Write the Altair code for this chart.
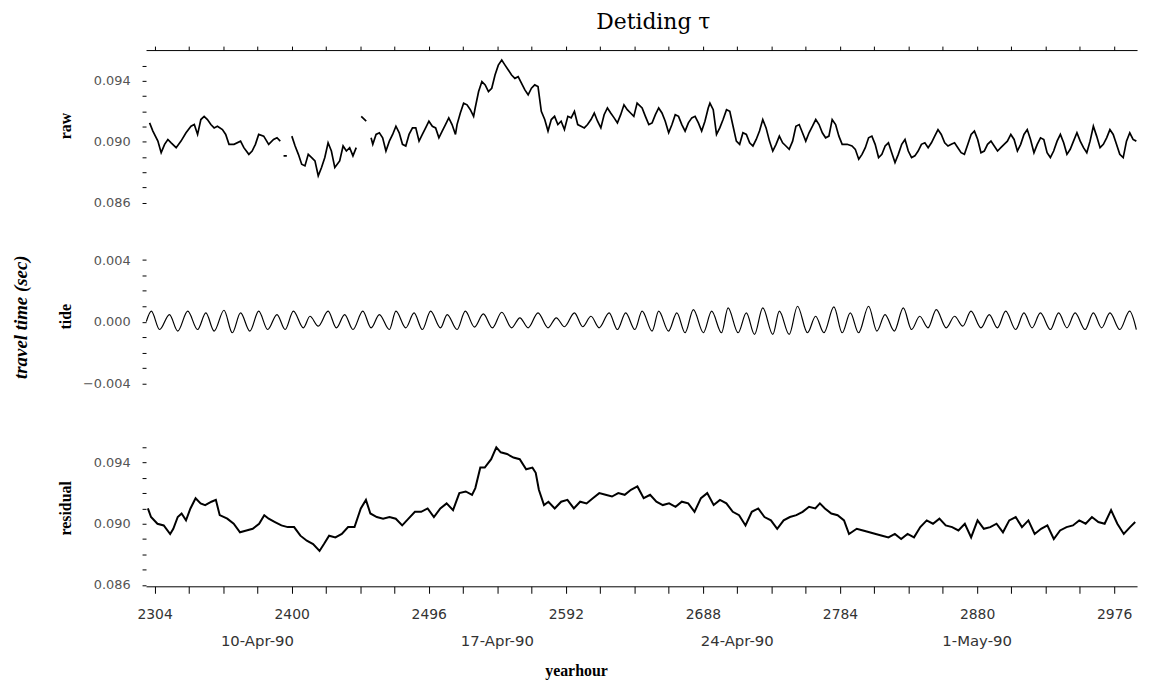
import altair as alt
import pandas as pd

# ---------------- data ----------------
raw_hours = [
    2300.5, 2302.8, 2306.3, 2308.6, 2311.0, 2313.3, 2315.6, 2319.1, 2322.5, 2326.0,
    2329.5, 2331.8, 2334.1, 2336.4, 2338.7, 2341.0, 2343.4, 2345.7, 2348.0, 2351.5,
    2353.8, 2356.1, 2359.6, 2364.2, 2366.5, 2370.0, 2372.3, 2374.6, 2376.9, 2380.4,
    2383.9, 2387.3, 2389.7, 2392.0, 2393.2, 2394.3, 2396.6, 2398.3, 2400.1, 2402.4,
    2404.7, 2407.0, 2409.3, 2411.6, 2414.0, 2416.3, 2418.6, 2420.9, 2423.2, 2425.5,
    2427.8, 2430.2, 2433.6, 2436.0, 2438.3, 2440.6, 2442.9, 2445.2, 2447.0, 2448.7,
    2452.2, 2454.0, 2455.6, 2456.8, 2459.1, 2461.4, 2463.7, 2466.0, 2468.4, 2470.7,
    2473.0, 2475.3, 2477.6, 2479.9, 2482.2, 2484.6, 2486.9, 2489.2, 2491.5, 2493.8,
    2496.1, 2498.5, 2500.8, 2503.1, 2505.4, 2507.7, 2510.0, 2512.3, 2514.7, 2515.8,
    2518.1, 2520.4, 2522.8, 2525.1, 2527.4, 2528.5, 2530.9, 2533.2, 2535.5, 2537.8,
    2540.1, 2542.4, 2544.7, 2547.1, 2549.4, 2551.7, 2554.0, 2556.3, 2558.6, 2560.9,
    2563.3, 2565.6, 2567.9, 2570.2, 2572.5, 2574.8, 2577.2, 2579.5, 2581.8, 2584.1,
    2586.4, 2588.7, 2591.0, 2593.4, 2595.7, 2598.0, 2600.3, 2602.6, 2604.9, 2607.2,
    2609.6, 2611.9, 2614.2, 2616.5, 2618.8, 2621.1, 2623.4, 2625.8, 2628.1, 2630.4,
    2632.7, 2635.0, 2637.3, 2639.6, 2641.9, 2645.4, 2647.7, 2650.1, 2652.4, 2654.7,
    2657.0, 2659.3, 2661.6, 2664.0, 2666.3, 2668.6, 2670.9, 2673.2, 2675.5, 2677.8,
    2680.2, 2682.5, 2684.8, 2687.1, 2689.4, 2691.7, 2692.9, 2695.2, 2697.5, 2699.8,
    2702.1, 2704.5, 2706.8, 2709.1, 2711.4, 2713.7, 2716.0, 2718.4, 2720.7, 2723.0,
    2725.3, 2727.6, 2729.9, 2732.2, 2734.6, 2736.9, 2739.2, 2741.5, 2743.8, 2746.1,
    2748.4, 2750.8, 2753.1, 2755.4, 2757.7, 2760.0, 2762.3, 2764.7, 2767.0, 2769.3,
    2771.6, 2773.9, 2776.2, 2778.5, 2780.9, 2783.2, 2785.5, 2789.0, 2792.4, 2794.7,
    2797.1, 2799.4, 2801.7, 2804.0, 2806.3, 2808.6, 2811.0, 2813.3, 2815.6, 2817.9,
    2820.2, 2822.5, 2824.8, 2827.2, 2829.5, 2831.8, 2834.1, 2836.4, 2838.7, 2841.0,
    2843.4, 2845.7, 2848.0, 2850.3, 2852.6, 2854.9, 2857.3, 2859.6, 2861.9, 2864.2,
    2866.5, 2868.8, 2871.1, 2873.5, 2875.8, 2878.1, 2880.4, 2882.7, 2885.0, 2887.3,
    2889.7, 2892.0, 2894.3, 2896.6, 2898.9, 2901.2, 2903.6, 2905.9, 2908.2, 2910.5,
    2912.8, 2915.1, 2917.4, 2919.8, 2922.1, 2924.4, 2926.7, 2929.0, 2931.3, 2933.6,
    2936.0, 2938.3, 2940.6, 2942.9, 2945.2, 2947.5, 2949.9, 2952.2, 2954.5, 2956.8,
    2959.1, 2961.4, 2963.7, 2966.1, 2968.4, 2970.7, 2973.0, 2975.3, 2977.6, 2979.9,
    2982.3, 2984.6, 2986.9, 2989.2, 2991.5,
]
raw_values = [
    0.09124, 0.09070, 0.09004, 0.08928, 0.08983, 0.09015, 0.08993, 0.08961, 0.09004, 0.09059,
    0.09102, 0.09113, 0.09048, 0.09146, 0.09167, 0.09146, 0.09113, 0.09091, 0.09102, 0.09080,
    0.09048, 0.08983, 0.08983, 0.09004, 0.08961, 0.08917, 0.08939, 0.08983, 0.09048, 0.09037,
    0.08983, 0.09015, 0.09026, 0.09004, None, 0.08907, 0.08907, None, 0.09037, 0.08972,
    0.08917, 0.08852, 0.08841, 0.08917, 0.08896, 0.08874, 0.08776, 0.08830, 0.08896, 0.08993,
    0.08939, 0.08830, 0.08874, 0.08972, 0.08939, 0.08961, 0.08907, 0.08961, None, 0.09167,
    0.09135, None, 0.09026, 0.08983, 0.09048, 0.09059, 0.09026, 0.08939, 0.09004, 0.09048,
    0.09102, 0.09059, 0.08983, 0.08972, 0.09048, 0.09091, 0.09091, 0.09004, 0.09048, 0.09091,
    0.09135, 0.09102, 0.09091, 0.09026, 0.09070, 0.09113, 0.09157, 0.09113, 0.09048, 0.09113,
    0.09189, 0.09254, 0.09243, 0.09211, 0.09167, 0.09222, 0.09330, 0.09396, 0.09374, 0.09330,
    0.09352, 0.09439, 0.09504, 0.09537, 0.09504, 0.09472, 0.09439, 0.09417, 0.09428, 0.09385,
    0.09341, 0.09309, 0.09352, 0.09374, 0.09363, 0.09200, 0.09146, 0.09070, 0.09146, 0.09167,
    0.09113, 0.09135, 0.09080, 0.09167, 0.09157, 0.09200, 0.09113, 0.09102, 0.09091, 0.09113,
    0.09146, 0.09189, 0.09135, 0.09091, 0.09178, 0.09222, 0.09189, 0.09157, 0.09124, 0.09178,
    0.09243, 0.09211, 0.09189, 0.09167, 0.09254, 0.09222, 0.09167, 0.09113, 0.09124, 0.09178,
    0.09222, 0.09189, 0.09135, 0.09059, 0.09113, 0.09178, 0.09167, 0.09113, 0.09070, 0.09124,
    0.09157, 0.09167, 0.09124, 0.09070, 0.09135, 0.09222, 0.09254, 0.09211, 0.09048, 0.09091,
    0.09146, 0.09211, 0.09200, 0.09102, 0.09004, 0.08983, 0.09059, 0.09048, 0.08993, 0.08972,
    0.09015, 0.09070, 0.09146, 0.09091, 0.09004, 0.08939, 0.08983, 0.09037, 0.08993, 0.08972,
    0.08950, 0.09004, 0.09102, 0.09113, 0.09059, 0.09004, 0.09059, 0.09102, 0.09146, 0.09113,
    0.09059, 0.09026, 0.09037, 0.09146, 0.09113, 0.09037, 0.08983, 0.08983, 0.08972, 0.08950,
    0.08885, 0.08917, 0.08961, 0.09026, 0.09037, 0.08983, 0.08896, 0.08917, 0.08972, 0.08993,
    0.08928, 0.08863, 0.08917, 0.08983, 0.09015, 0.08939, 0.08896, 0.08907, 0.08939, 0.08983,
    0.08993, 0.08961, 0.08993, 0.09037, 0.09080, 0.09048, 0.08993, 0.08972, 0.08983, 0.08993,
    0.08961, 0.08928, 0.08917, 0.08983, 0.09048, 0.09070, 0.09015, 0.08928, 0.08939, 0.08983,
    0.09004, 0.08972, 0.08939, 0.08961, 0.08983, 0.09004, 0.09048, 0.09015, 0.08939, 0.08983,
    0.09048, 0.09080, 0.09015, 0.08928, 0.08983, 0.09026, 0.09015, 0.08928, 0.08896, 0.08939,
    0.09004, 0.09048, 0.08993, 0.08917, 0.08950, 0.09004, 0.09059, 0.09004, 0.08961, 0.08928,
    0.09004, 0.09102, 0.09037, 0.08961, 0.08983, 0.09026, 0.09080, 0.09048, 0.08983, 0.08917,
    0.08896, 0.09004, 0.09059, 0.09015, 0.09004,
]

tide_peak_hours = [
    2301.7, 2314.4, 2327.2, 2339.9, 2352.6, 2364.2, 2376.9, 2389.7, 2401.2, 2412.8,
    2425.5, 2437.1, 2449.8, 2461.4, 2473.0, 2485.7, 2497.3, 2508.9, 2521.6, 2534.2,
    2547.1, 2559.8, 2572.5, 2585.3, 2598.0, 2609.6, 2622.3, 2633.9, 2645.4, 2657.0,
    2669.7, 2681.3, 2694.1, 2705.6, 2718.4, 2729.9, 2741.5, 2754.2, 2766.9, 2779.7,
    2791.2, 2804.0, 2815.5, 2828.3, 2839.8, 2851.4, 2864.2, 2875.7, 2888.5, 2900.0,
    2912.8, 2924.3, 2937.1, 2948.6, 2961.4, 2973.0, 2986.8,
]
tide_peak_values = [
    0.00068, 0.00046, 0.00068, 0.00057, 0.00074, 0.00057, 0.00068, 0.00046, 0.00068, 0.00035,
    0.00068, 0.00046, 0.00068, 0.00046, 0.00068, 0.00057, 0.00068, 0.00046, 0.00068, 0.00050,
    0.00061, 0.00025, 0.00057, 0.00025, 0.00057, 0.00035, 0.00057, 0.00057, 0.00068, 0.00068,
    0.00057, 0.00078, 0.00068, 0.00089, 0.00057, 0.00089, 0.00068, 0.00100, 0.00035, 0.00096,
    0.00057, 0.00100, 0.00046, 0.00089, 0.00035, 0.00078, 0.00035, 0.00068, 0.00046, 0.00068,
    0.00057, 0.00057, 0.00057, 0.00057, 0.00057, 0.00057, 0.00068,
]
tide_trough_hours = [
    2298.2,
    2307.5, 2320.2, 2334.1, 2345.7, 2358.4, 2370.7, 2383.2, 2395.4, 2408.2, 2418.6,
    2431.3, 2442.9, 2455.6, 2468.4, 2479.9, 2491.5, 2504.2, 2515.8, 2528.0, 2540.6,
    2554.0, 2565.6, 2579.5, 2591.0, 2603.8, 2615.3, 2628.1, 2640.3, 2652.4, 2663.9,
    2675.5, 2688.3, 2701.0, 2712.6, 2724.1, 2736.9, 2748.4, 2761.2, 2772.7, 2785.5,
    2797.0, 2809.8, 2822.0, 2834.1, 2845.6, 2858.4, 2870.0, 2882.7, 2894.2, 2907.0,
    2918.5, 2931.3, 2942.9, 2955.6, 2967.2, 2979.9, 2991.5,
]
tide_trough_values = [
    0.00000,
    -0.00051, -0.00061, -0.00051, -0.00061, -0.00072, -0.00061, -0.00051, -0.00051, -0.00040, -0.00029,
    -0.00040, -0.00051, -0.00040, -0.00051, -0.00040, -0.00051, -0.00040, -0.00051, -0.00035, -0.00040,
    -0.00040, -0.00040, -0.00040, -0.00033, -0.00033, -0.00040, -0.00051, -0.00051, -0.00061, -0.00061,
    -0.00072, -0.00072, -0.00072, -0.00072, -0.00083, -0.00083, -0.00083, -0.00072, -0.00072, -0.00072,
    -0.00072, -0.00061, -0.00061, -0.00051, -0.00040, -0.00040, -0.00029, -0.00040, -0.00040, -0.00051,
    -0.00040, -0.00051, -0.00040, -0.00051, -0.00040, -0.00051, -0.00051,
]

resid_hours = [
    2299.3, 2301.5, 2306.0, 2310.4, 2314.9, 2317.1, 2320.2, 2322.9, 2326.0, 2329.1,
    2332.7, 2336.2, 2339.4, 2343.8, 2346.9, 2349.6, 2354.9, 2359.4, 2363.8, 2368.3,
    2372.7, 2377.2, 2380.8, 2383.9, 2388.3, 2392.8, 2397.2, 2401.7, 2406.1, 2410.6,
    2415.0, 2419.5, 2422.6, 2426.2, 2430.6, 2435.1, 2439.5, 2444.0, 2448.4, 2452.0,
    2455.1, 2459.6, 2464.0, 2468.5, 2472.9, 2477.4, 2481.8, 2486.3, 2490.7, 2495.2,
    2499.6, 2504.1, 2508.5, 2513.0, 2517.4, 2521.9, 2526.3, 2528.6, 2532.1, 2535.2,
    2539.7, 2543.3, 2546.4, 2550.8, 2555.3, 2559.7, 2564.2, 2568.6, 2570.9, 2573.1,
    2576.7, 2579.8, 2584.2, 2588.7, 2593.1, 2597.6, 2602.0, 2606.5, 2610.9, 2615.4,
    2619.8, 2624.3, 2628.7, 2633.2, 2637.6, 2642.1, 2646.5, 2651.0, 2655.4, 2659.9,
    2664.3, 2668.8, 2673.2, 2677.7, 2682.1, 2686.6, 2691.0, 2695.5, 2699.9, 2704.4,
    2708.9, 2713.3, 2717.8, 2722.2, 2726.7, 2731.1, 2735.6, 2740.0, 2744.5, 2748.9,
    2753.4, 2757.8, 2762.3, 2766.7, 2769.9, 2773.4, 2777.9, 2782.3, 2786.8, 2790.3,
    2795.7, 2800.1, 2804.6, 2809.0, 2813.5, 2817.9, 2822.4, 2826.8, 2831.3, 2835.8,
    2840.2, 2844.7, 2849.1, 2853.6, 2858.0, 2862.5, 2866.9, 2871.4, 2875.8, 2880.3,
    2884.7, 2889.2, 2893.6, 2898.1, 2902.5, 2907.0, 2911.4, 2915.9, 2920.3, 2924.8,
    2929.2, 2933.7, 2938.1, 2942.6, 2947.1, 2951.5, 2956.0, 2960.4, 2964.9, 2969.3,
    2973.8, 2978.2, 2982.7, 2987.1, 2990.7,
]
resid_values = [
    0.09100, 0.09044, 0.09000, 0.08989, 0.08933, 0.08967, 0.09044, 0.09067, 0.09022, 0.09100,
    0.09167, 0.09133, 0.09122, 0.09144, 0.09156, 0.09056, 0.09033, 0.09000, 0.08944, 0.08956,
    0.08967, 0.09000, 0.09056, 0.09033, 0.09011, 0.08989, 0.08978, 0.08978, 0.08922, 0.08889,
    0.08867, 0.08822, 0.08867, 0.08922, 0.08911, 0.08933, 0.08978, 0.08978, 0.09100, 0.09156,
    0.09067, 0.09044, 0.09033, 0.09044, 0.09033, 0.08989, 0.09033, 0.09078, 0.09078, 0.09100,
    0.09044, 0.09100, 0.09133, 0.09089, 0.09200, 0.09211, 0.09189, 0.09233, 0.09367, 0.09367,
    0.09422, 0.09500, 0.09467, 0.09456, 0.09433, 0.09422, 0.09356, 0.09367, 0.09333, 0.09222,
    0.09122, 0.09144, 0.09100, 0.09144, 0.09156, 0.09100, 0.09144, 0.09133, 0.09167, 0.09200,
    0.09189, 0.09178, 0.09200, 0.09189, 0.09222, 0.09244, 0.09167, 0.09189, 0.09144, 0.09122,
    0.09133, 0.09111, 0.09144, 0.09133, 0.09078, 0.09167, 0.09200, 0.09122, 0.09156, 0.09133,
    0.09078, 0.09056, 0.08989, 0.09078, 0.09100, 0.09044, 0.09022, 0.08967, 0.09022, 0.09044,
    0.09056, 0.09078, 0.09111, 0.09100, 0.09133, 0.09100, 0.09067, 0.09056, 0.09022, 0.08933,
    0.08967, 0.08956, 0.08944, 0.08933, 0.08922, 0.08911, 0.08933, 0.08900, 0.08933, 0.08911,
    0.08978, 0.09022, 0.09000, 0.09033, 0.08989, 0.08978, 0.08956, 0.09000, 0.08911, 0.09022,
    0.08967, 0.08978, 0.09000, 0.08944, 0.09022, 0.09044, 0.08978, 0.09022, 0.08933, 0.08967,
    0.08989, 0.08900, 0.08956, 0.08978, 0.08989, 0.09022, 0.09000, 0.09044, 0.09011, 0.09000,
    0.09089, 0.09000, 0.08933, 0.08978, 0.09011,
]

x_tick_hours = [2304, 2328, 2352, 2376, 2400, 2424, 2448, 2472, 2496, 2520, 2544, 2568,
                2592, 2616, 2640, 2664, 2688, 2712, 2736, 2760, 2784, 2808, 2832, 2856,
                2880, 2904, 2928, 2952, 2976]
date_hours = [2376, 2544, 2712, 2880]
date_labels = ["10-Apr-90", "17-Apr-90", "24-Apr-90", "1-May-90"]
raw_ticks = [0.086, 0.087, 0.088, 0.089, 0.090, 0.091, 0.092, 0.093, 0.094, 0.095]
tide_ticks = [-0.004, -0.003, -0.002, -0.001, 0.000, 0.001, 0.002, 0.003, 0.004]
resid_ticks = [0.086, 0.087, 0.088, 0.089, 0.090, 0.091, 0.092, 0.093, 0.094, 0.095]

# ---------------- tables ----------------
raw_df = pd.DataFrame({"hour": raw_hours, "value": raw_values})
tide_df = pd.DataFrame({
    "hour": tide_peak_hours + tide_trough_hours,
    "value": tide_peak_values + tide_trough_values,
}).sort_values("hour")
resid_df = pd.DataFrame({"hour": resid_hours, "value": resid_values})
dates_df = pd.DataFrame({"hour": date_hours, "label": date_labels})
ytitle_df = pd.DataFrame({"t": ["travel time (sec)"]})

W = 998
H_RAW, H_TIDE, H_RES = 182, 183, 175
X_DOMAIN = [2298, 2992]
xscale = alt.Scale(domain=X_DOMAIN, nice=False, zero=False)

LABEL_FONT = "DejaVu Sans"
SERIF = "Liberation Serif"


def yaxis(title, ticks, mod, title_y):
    return alt.Axis(
        title=title, values=ticks, format=".3f",
        labelExpr=f"round(datum.value*1000) % 4 == {mod} ? datum.label : ''",
        labelFont=LABEL_FONT, labelFontSize=13, labelColor="#555",
        labelPadding=12, tickSize=4, tickColor="black", domain=False,
        grid=False, labelOverlap=False,
        titleFont=SERIF, titleFontWeight="bold", titleFontSize=16,
        titleAngle=270, titleAlign="center", titleBaseline="middle",
        titleX=-81, titleY=title_y, titleColor="black",
    )


top_axis = alt.Axis(orient="top", values=x_tick_hours, labels=False, title=None,
                    tickSize=4, tickColor="black", domainColor="black", grid=False)

bottom_axis = alt.Axis(
    orient="bottom", values=x_tick_hours, format="d",
    labelExpr="(datum.value - 2304) % 96 == 0 ? datum.label : ''",
    labelFont=LABEL_FONT, labelFontSize=14, labelColor="#333", labelPadding=14,
    labelFlush=False, labelOverlap=False,
    tickSize=7, tickColor="black", domainColor="black", grid=False,
    title="yearhour", titleFont=SERIF, titleFontWeight="bold", titleFontSize=16,
    titleColor="black", titleX=433, titleY=90, titleAlign="center",
    titleBaseline="alphabetic",
)

raw = alt.Chart(raw_df).mark_line(color="black", strokeWidth=1.7).encode(
    x=alt.X("hour:Q", scale=xscale, axis=top_axis),
    y=alt.Y("value:Q", scale=alt.Scale(domain=[0.08414, 0.09603], nice=False, zero=False),
            axis=yaxis("raw", raw_ticks, 2, 76)),
).properties(width=W, height=H_RAW)

tide_line = alt.Chart(tide_df).mark_line(color="black", strokeWidth=1.2,
                                         interpolate="monotone").encode(
    x=alt.X("hour:Q", scale=xscale, axis=None),
    y=alt.Y("value:Q", scale=alt.Scale(domain=[-0.0059, 0.0059], nice=False, zero=False),
            axis=yaxis("tide", tide_ticks, 0, 86)),
)
travel_title = alt.Chart(ytitle_df).mark_text(
    angle=270, font=SERIF, fontStyle="italic", fontWeight="bold", fontSize=19,
    color="black", align="center", baseline="middle",
).encode(x=alt.value(-126), y=alt.value(87), text="t:N")
tide = alt.layer(tide_line, travel_title).properties(width=W, height=H_TIDE)

res_line = alt.Chart(resid_df).mark_line(color="black", strokeWidth=2).encode(
    x=alt.X("hour:Q", scale=xscale, axis=bottom_axis),
    y=alt.Y("value:Q", scale=alt.Scale(domain=[0.08591, 0.09727], nice=False, zero=False),
            axis=yaxis("residual", resid_ticks, 2, 96)),
)
date_text = alt.Chart(dates_df).mark_text(
    font=LABEL_FONT, fontSize=15, color="#333", align="center", baseline="middle",
).encode(x=alt.X("hour:Q", scale=xscale, axis=bottom_axis), y=alt.value(230), text="label:N")
resid = alt.layer(res_line, date_text).properties(width=W, height=H_RES)

chart = alt.vconcat(raw, tide, resid, spacing=0).properties(
    title=alt.TitleParams(text="Detiding τ", font="DejaVu Serif", fontSize=22,
                          fontWeight="normal", color="black", anchor="middle",
                          offset=12, dx=78),
    padding={"left": 4, "top": 0, "right": 5, "bottom": 2},
).configure_view(stroke=None).resolve_scale(x="shared")

chart.save("out.html", embed_options={"renderer": "svg", "actions": False})
